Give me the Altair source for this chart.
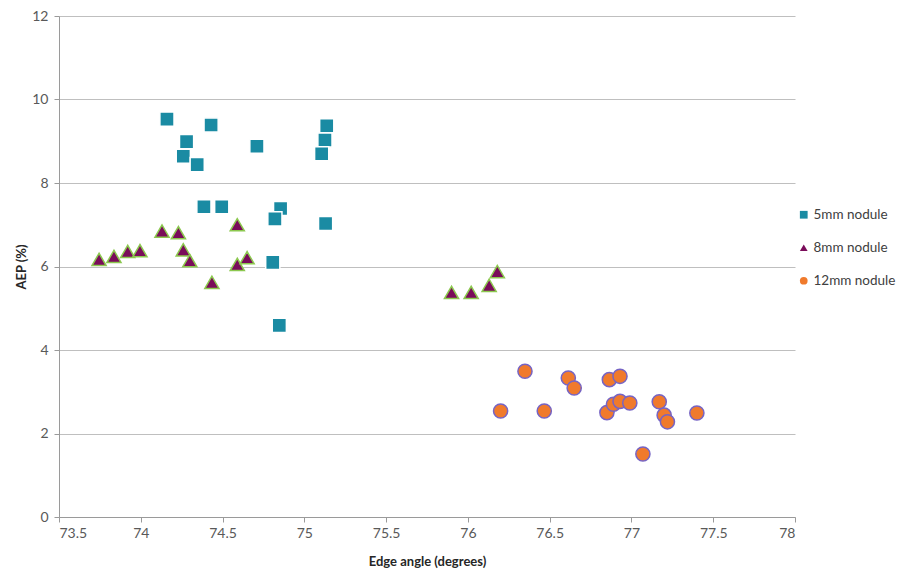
import altair as alt
import pandas as pd

series_names = ["5mm nodule", "8mm nodule", "12mm nodule"]

sq_x = [74.16, 74.43, 74.28, 74.26, 74.345, 74.71, 75.137, 75.126, 75.106,
        74.386, 74.495, 74.855, 74.82, 75.13, 74.807, 74.847]
sq_y = [9.53, 9.39, 8.99, 8.64, 8.44, 8.88, 9.37, 9.03, 8.70,
        7.43, 7.43, 7.39, 7.14, 7.03, 6.10, 4.59]

tri_x = [73.745, 73.836, 73.92, 73.995, 74.13, 74.23, 74.26, 74.30, 74.435,
         74.59, 74.59, 74.65, 75.90, 76.02, 76.13, 76.18]
tri_y = [6.17, 6.24, 6.36, 6.38, 6.85, 6.81, 6.40, 6.14, 5.62,
         7.00, 6.05, 6.21, 5.38, 5.38, 5.55, 5.88]

cir_x = [76.349, 76.614, 76.65, 76.865, 76.93, 76.20, 76.467, 76.85, 76.89,
         76.93, 76.99, 77.17, 77.20, 77.22, 77.40, 77.07]
cir_y = [3.49, 3.33, 3.09, 3.29, 3.37, 2.54, 2.54, 2.50, 2.70,
         2.77, 2.73, 2.76, 2.44, 2.28, 2.49, 1.51]

x_ticks = [73.5, 74, 74.5, 75, 75.5, 76, 76.5, 77, 77.5, 78]
y_ticks = [0, 2, 4, 6, 8, 10, 12]

fills = ["#1a8ba3", "#7a0c5a", "#f07a2c"]
strokes = ["#ffffff", "#8cc84f", "#7664c4"]
shapes = ["square", "triangle-up", "circle"]

rows = []
for name, xs, ys in zip(series_names, [sq_x, tri_x, cir_x], [sq_y, tri_y, cir_y]):
    for xv, yv in zip(xs, ys):
        rows.append({"angle": xv, "aep": yv, "series": name})
df = pd.DataFrame(rows)

FONT = "Lato"

chart = alt.Chart(df).mark_point(filled=True, size=200, strokeWidth=1.5, opacity=1).encode(
    x=alt.X("angle:Q", scale=alt.Scale(domain=[73.5, 78], nice=False, zero=False),
            axis=alt.Axis(values=x_ticks, title="Edge angle (degrees)", grid=False,
                          format="~g")),
    y=alt.Y("aep:Q", scale=alt.Scale(domain=[0, 12], nice=False),
            axis=alt.Axis(values=y_ticks, title="AEP (%)", grid=True, format="d")),
    fill=alt.Fill("series:N", scale=alt.Scale(domain=series_names, range=fills),
                  legend=alt.Legend(title=None, orient="none", legendX=738, legendY=192,
                                    symbolSize=60, symbolStrokeWidth=0,
                                    labelFontSize=13.5, labelFont=FONT, labelColor="#404040",
                                    rowPadding=18, labelOffset=3)),
    shape=alt.Shape("series:N", scale=alt.Scale(domain=series_names, range=shapes)),
    stroke=alt.Stroke("series:N", scale=alt.Scale(domain=series_names, range=strokes), legend=None),
    order=alt.Order("series:N"),
).properties(
    width=736, height=501,
    autosize=alt.AutoSizeParams(type="none"),
    padding={"left": 51, "top": 8, "right": 110, "bottom": 56},
).configure_view(stroke=None).configure_axis(
    domainColor="#9a9a9a", tickColor="#9a9a9a", gridColor="#bfbfbf", gridWidth=1,
    labelFont=FONT, labelFontSize=14, labelColor="#595959", tickSize=5,
    titleFont=FONT, titleFontSize=13, titleFontWeight="bold", titleColor="#262626",
).configure_axisX(labelPadding=4, titlePadding=15).configure_axisY(labelPadding=6, titlePadding=3)

chart.save("out.html", embed_options={"renderer": "svg", "actions": False})
